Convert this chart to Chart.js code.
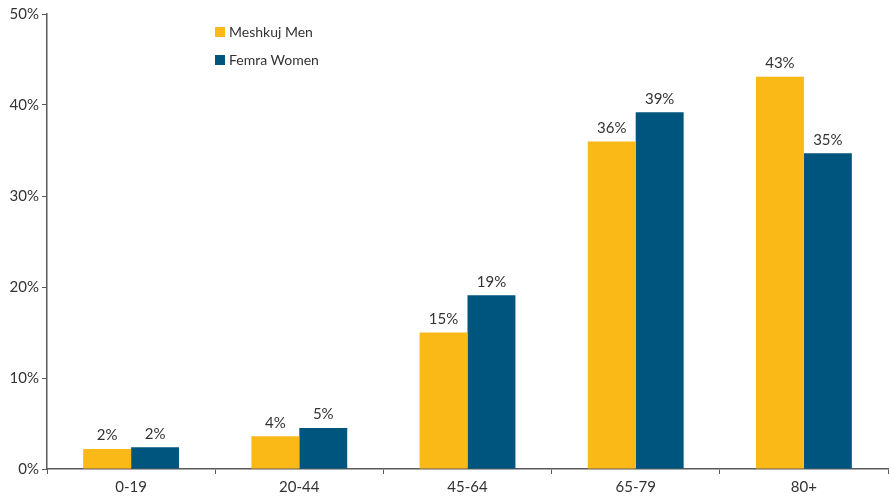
<!DOCTYPE html>
<html>
<head>
<meta charset="utf-8">
<script src="https://cdn.jsdelivr.net/npm/chart.js@4"></script>
<style>
  html, body { margin: 0; padding: 0; background: #fff; }
  #wrap { position: relative; width: 889px; height: 498px; }
  #legend { position: absolute; left: 215px; top: 23px; font: 14px Lato, "Open Sans", sans-serif; color: #333; }
  #legend .row { height: 28px; display: flex; align-items: flex-start; }
  #legend .sw { width: 10px; height: 10px; margin: 4px 4px 0 0; }
</style>
</head>
<body>
<div id="wrap">
  <canvas id="chart" width="889" height="498"></canvas>
  <div id="legend"></div>
</div>
<script>
// age groups and shares (%)
const ageGroups = ['0-19', '20-44', '45-64', '65-79', '80+'];
const menValues = [2.2, 3.6, 15.0, 36.0, 43.1];
const womenValues = [2.4, 4.5, 19.1, 39.2, 34.7];
const yTicks = [0, 10, 20, 30, 40, 50];

const AXIS = '#595959';
const FONT = 'Lato, "Open Sans", sans-serif';

// labels over each bar
const barLabels = {
  id: 'barLabels',
  afterDatasetsDraw(chart) {
    const ctx = chart.ctx;
    ctx.save();
    ctx.font = '15px ' + FONT;
    ctx.fillStyle = '#333';
    ctx.textAlign = 'center';
    ctx.textBaseline = 'bottom';
    chart.data.datasets.forEach((ds, i) => {
      chart.getDatasetMeta(i).data.forEach((bar, j) => {
        ctx.fillText(Math.round(ds.data[j]) + '%', bar.x, bar.y - 6);
      });
    });
    ctx.restore();
  }
};

const chart = new Chart(document.getElementById('chart'), {
  type: 'bar',
  data: {
    labels: ageGroups,
    datasets: [
      { label: 'Meshkuj Men', data: menValues, backgroundColor: '#FBB917' },
      { label: 'Femra Women', data: womenValues, backgroundColor: '#00557F' }
    ]
  },
  options: {
    responsive: false,
    animation: false,
    layout: { padding: { top: 14, right: 1, left: 0, bottom: 0 } },
    plugins: { legend: { display: false }, tooltip: { enabled: false } },
    datasets: { bar: { barPercentage: 1, categoryPercentage: 0.57 } },
    scales: {
      x: {
        grid: { offset: true, drawOnChartArea: false, color: AXIS, tickLength: 5 },
        border: { color: AXIS, width: 1.5 },
        ticks: { color: '#333', font: { family: FONT, size: 15 }, padding: 4 },
        afterFit: s => { s.height = 29; }
      },
      y: {
        min: 0, max: 50,
        afterBuildTicks: s => { s.ticks = yTicks.map(v => ({ value: v })); },
        grid: { drawOnChartArea: false, color: AXIS, tickLength: 5 },
        border: { color: AXIS, width: 1.5 },
        ticks: { color: '#333', font: { family: FONT, size: 15 }, padding: 3, callback: v => v + '%' },
        afterFit: s => { s.width = 47; }
      }
    }
  },
  plugins: [barLabels]
});

// html legend from datasets
const legendEl = document.getElementById('legend');
chart.data.datasets.forEach(ds => {
  const row = document.createElement('div');
  row.className = 'row';
  row.innerHTML = `<span class="sw" style="background:${ds.backgroundColor}"></span><span>${ds.label}</span>`;
  legendEl.appendChild(row);
});
</script>
</body>
</html>
